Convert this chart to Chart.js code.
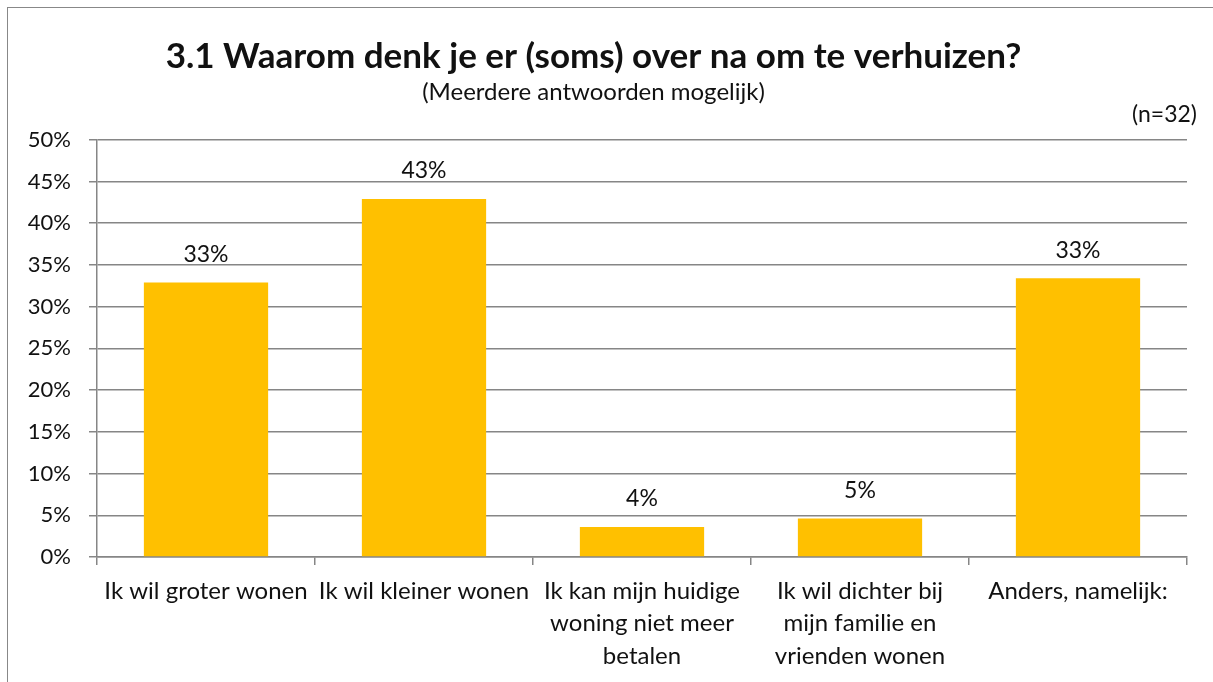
<!DOCTYPE html>
<html>
<head>
<meta charset="utf-8">
<script src="https://cdn.jsdelivr.net/npm/chart.js@4/dist/chart.umd.min.js"></script>
<style>
  html, body { margin: 0; padding: 0; background: #fff; }
  #wrap { position: relative; width: 1213px; height: 682px; }
  #frame { position: absolute; left: 7px; top: 7px; right: -2px; bottom: -2px; border: 1.5px solid #888; }
  canvas { position: absolute; left: 0; top: 0; }
</style>
</head>
<body>
<div id="wrap">
  <div id="frame"></div>
  <canvas id="chart" width="1213" height="682"></canvas>
</div>
<script>
// gegevens uit de grafiek
const categories = [
  'Ik wil groter wonen',
  'Ik wil kleiner wonen',
  ['Ik kan mijn huidige', 'woning niet meer', 'betalen'],
  ['Ik wil dichter bij', 'mijn familie en', 'vrienden wonen'],
  'Anders, namelijk:'
];
const percentages = [32.9, 42.9, 3.6, 4.6, 33.4];
const yTicks = [0, 5, 10, 15, 20, 25, 30, 35, 40, 45, 50];

const titleText = '3.1 Waarom denk je er (soms) over na om te verhuizen?';
const subtitleText = '(Meerdere antwoorden mogelijk)';
const nText = '(n=32)';

const FONT = 'Lato, "Open Sans", sans-serif';
const TEXT = '#111';
const GRID = '#868686';

// tekst boven de balken en (n=32)
const labelPlugin = {
  id: 'labels',
  afterDatasetsDraw(chart) {
    const ctx = chart.ctx;
    const meta = chart.getDatasetMeta(0);
    ctx.save();
    ctx.font = '23px ' + FONT;
    ctx.fillStyle = TEXT;
    ctx.textAlign = 'center';
    ctx.textBaseline = 'middle';
    meta.data.forEach((bar, i) => {
      ctx.fillText(Math.round(percentages[i]) + '%', bar.x, bar.y - 28);
    });
    ctx.textAlign = 'right';
    ctx.fillText(nText, chart.chartArea.right + 10, chart.chartArea.top - 25);
    ctx.restore();
  }
};

new Chart(document.getElementById('chart'), {
  type: 'bar',
  data: {
    labels: categories,
    datasets: [{
      data: percentages,
      backgroundColor: '#FFC000',
      barPercentage: 0.57,
      categoryPercentage: 1
    }]
  },
  options: {
    responsive: false,
    animation: false,
    layout: { padding: { left: 0, right: 26, top: 0, bottom: 0 } },
    plugins: {
      legend: { display: false },
      tooltip: { enabled: false },
      title: {
        display: true,
        text: titleText,
        color: TEXT,
        font: { family: FONT, size: 35, weight: 'bold' },
        padding: { top: 36, bottom: 0 }
      },
      subtitle: {
        display: true,
        text: subtitleText,
        color: TEXT,
        font: { family: FONT, size: 24 },
        padding: { top: 0, bottom: 33 }
      }
    },
    scales: {
      y: {
        min: 0,
        max: 50,
        afterBuildTicks(scale) { scale.ticks = yTicks.map(v => ({ value: v })); },
        afterFit(scale) { scale.width = 97; },
        ticks: {
          color: TEXT,
          font: { family: FONT, size: 22 },
          padding: 18,
          callback: v => v + '%'
        },
        grid: { color: GRID, lineWidth: 1.5, tickLength: 8 },
        border: { color: GRID, width: 1.5 }
      },
      x: {
        afterFit(scale) { scale.height = 125; },
        ticks: {
          color: TEXT,
          font: { family: FONT, size: 24, lineHeight: 1.35 },
          maxRotation: 0,
          autoSkip: false,
          padding: 10
        },
        grid: { drawOnChartArea: false, color: GRID, lineWidth: 1.5, tickLength: 8 },
        border: { color: GRID, width: 1.5 }
      }
    }
  },
  plugins: [labelPlugin]
});
</script>
</body>
</html>
